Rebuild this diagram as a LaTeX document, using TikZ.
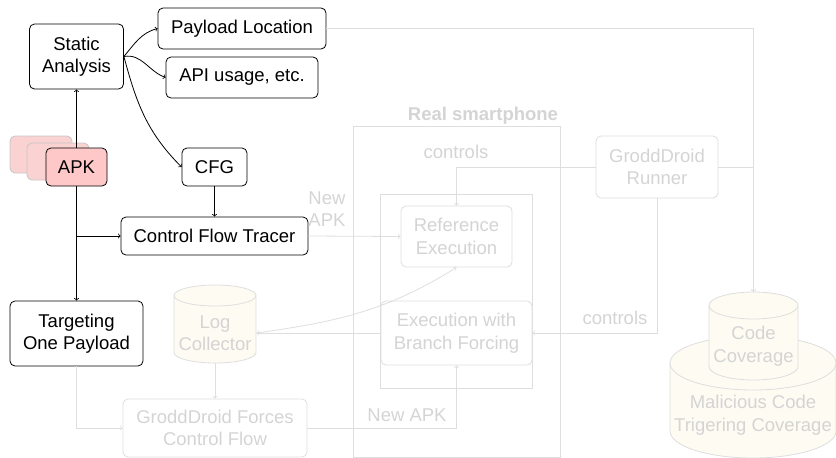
\documentclass[tikz,border=0pt]{standalone}
\usepackage{fontspec}
\setmainfont{Liberation Sans}

\definecolor{fadeline}{RGB}{222,222,222}
\definecolor{fadetext}{RGB}{212,212,212}
\definecolor{cream}{RGB}{253,251,242}
\definecolor{apkfill}{RGB}{255,200,200}
\definecolor{apkshadow}{RGB}{250,210,210}
\definecolor{shadowline}{RGB}{198,198,198}

% cylinder outline: centre x, half width, top y, bottom y, ellipse half height
\newcommand\cylpath[5]{%
  \path[draw=fadeline, fill=cream] (#1-#2, #3+#5) -- (#1-#2, #4-#5)
    arc[start angle=180, end angle=0, x radius=#2, y radius=#5]
    -- (#1+#2, #3+#5)
    arc[start angle=0, end angle=-180, x radius=#2, y radius=#5] -- cycle;
  \draw[fadeline] (#1-#2, #3+#5)
    arc[start angle=180, end angle=0, x radius=#2, y radius=#5];}

\begin{document}
\begin{tikzpicture}[x=1pt, y=-1pt, line width=0.8pt,
  font=\fontsize{18.5}{22.5}\selectfont,
  box/.style={draw, rounded corners=5pt, align=center, inner sep=0pt},
  fbox/.style={box, draw=fadeline, text=fadetext},
  ftext/.style={text=fadetext, align=center, inner sep=0pt},
  fedge/.style={->, draw=fadeline}]

\useasboundingbox (0,0) rectangle (836,458);

% ---- analysis part ----
\node[box, minimum width=94pt, minimum height=65pt] (sa) at (76.5,56.5) {Static\\Analysis};
\node[box, minimum width=168pt, minimum height=41pt] (pl) at (242,28.5) {Payload Location};
\node[box, minimum width=152pt, minimum height=41pt] (api) at (242,77.5) {API usage, etc.};

\node[box, draw=shadowline, fill=apkshadow, minimum width=62pt, minimum height=37pt] (apkc) at (41,154.5) {};
\node[box, draw=shadowline, fill=apkshadow, minimum width=62pt, minimum height=37pt] (apkb) at (58,161.5) {};
\node[box, fill=apkfill, minimum width=61pt, minimum height=38pt] (apk) at (76.5,167) {APK};

\node[box, minimum width=65pt, minimum height=38pt] (cfg) at (214.5,167) {CFG};
\node[box, minimum width=187pt, minimum height=38pt] (cft) at (214.5,236) {Control Flow Tracer};
\node[box, minimum width=133pt, minimum height=65pt] (tgt) at (76.5,333.5) {Targeting\\One Payload};

% ---- execution part ----
\node[draw=fadeline, minimum width=207pt, minimum height=331pt, inner sep=0pt] (phone) at (456.5,291.5) {};
\node[ftext, font=\fontsize{18.5}{22.5}\selectfont\bfseries] (phonelabel) at (483,116) {Real smartphone};
\node[draw=fadeline, minimum width=152pt, minimum height=194pt, inner sep=0pt] (device) at (456,291) {};

\node[fbox, fill=white, minimum width=111pt, minimum height=61pt] (ref) at (456.5,236.5) {Reference\\Execution};
\node[fbox, fill=white, minimum width=151pt, minimum height=64pt] (bf) at (456.5,333) {Execution with\\Branch Forcing};
\node[fbox, minimum width=122pt, minimum height=62pt] (runner) at (657,167) {GroddDroid\\Runner};
\node[fbox, minimum width=184pt, minimum height=58pt] (force) at (215,428) {GroddDroid Forces\\Control Flow};

\cylpath{215}{41}{285}{363}{10.5}
\node[ftext, minimum width=82pt, minimum height=60pt] (log) at (215,333) {Log\\Collector};

\cylpath{753}{83}{336}{458}{27}
\cylpath{753.5}{44.5}{292}{380}{13.5}
\coordinate (cctop) at (753.5,292);
\node[ftext] (mal) at (753,415) {Malicious Code\\Trigering Coverage};
\node[ftext] (cc) at (753.5,346) {Code\\Coverage};

% ---- connectors ----
\draw[->] (apk.north) -- (sa.south);
\draw[->] (apk.south) -- (tgt.north);
\draw[->] (apk.south |- cft.west) -- (cft.west);
\draw[->] (cfg.south) -- (cft.north);
\draw[->] (sa.east) to[out=50, in=195] (pl.west);
\draw[->] (sa.east) to[out=10, in=160] (api.west);
\draw[->] (sa.east) to[out=-75, in=135] (cfg.west);

\draw[fedge] (cft.east) -- (ref.west);
\node[ftext] (newapka) at (327,209) {New\\APK};
\draw[fedge] (runner.west) -| (ref.north);
\node[ftext] (ctrla) at (456,152) {controls};
\draw[fedge] (runner.south) |- (bf.east);
\node[ftext] (ctrlb) at (615,318) {controls};
\draw[fedge] (runner.east) -| (cctop);
\draw[fedge] (pl.east) -| (cctop);
\draw[fedge] (log.south) -- (force.north);
\draw[fedge] (tgt.south) |- (force.west);
\draw[fedge] (force.east) -| (bf.south);
\node[ftext] (newapkb) at (407,415) {New APK};
\draw[fedge] (bf.west) -- (log.east);
\draw[fedge] (log.east) to[out=8, in=212] (ref.south);

\end{tikzpicture}
\end{document}
